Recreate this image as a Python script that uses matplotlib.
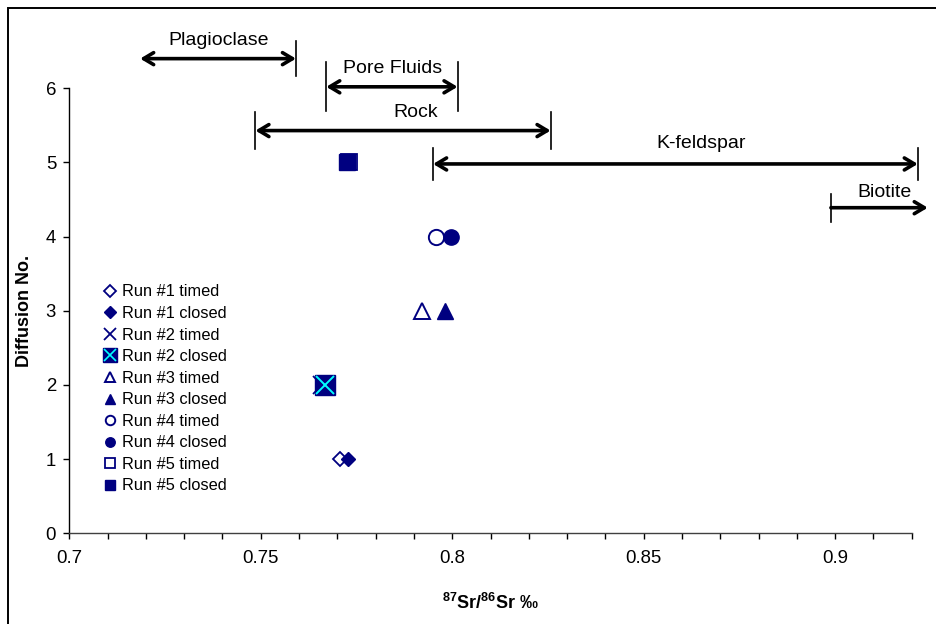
import matplotlib
matplotlib.use("Agg")
import matplotlib.pyplot as plt
from matplotlib.lines import Line2D
from matplotlib.patches import Rectangle
from matplotlib.ticker import FixedLocator, NullFormatter

plt.rcParams['font.family'] = ['Liberation Sans', 'DejaVu Sans']
plt.rcParams['mathtext.fontset'] = 'custom'
plt.rcParams['mathtext.rm'] = 'Liberation Sans'
plt.rcParams['mathtext.bf'] = 'Liberation Sans:bold'

# Sr isotope ratio of each diffusion run (timed vs. closed)
diffusion_no = [1, 2, 3, 4, 5]
sr_timed = [0.7706, 0.7661, 0.7920, 0.7958, 0.7731]
sr_closed = [0.7727, 0.7669, 0.7980, 0.7998, 0.7725]

# Reported ranges of the reservoirs / minerals
range_names = ['Plagioclase', 'Pore Fluids', 'Rock', 'K-feldspar', 'Biotite']
range_lo = [0.7185, 0.7671, 0.7486, 0.7950, 0.8989]
range_hi = [0.7592, 0.8014, 0.8257, 0.9216, 0.9242]
range_level = [6.40, 6.02, 5.43, 4.98, 4.39]

x_major = [0.7, 0.75, 0.8, 0.85, 0.9]
x_major_labels = ['0.7', '0.75', '0.8', '0.85', '0.9']
y_ticks = [0, 1, 2, 3, 4, 5, 6]

NAVY = '#000080'
CYAN = '#00FFFF'

W, H = 937, 624
fig = plt.figure(figsize=(W / 100, H / 100), dpi=100)
fig.patch.set_facecolor('white')

# outer chart border
fig.add_artist(Rectangle((8 / W, -0.2), 1.5, (1 - 8 / H) + 0.2,
                         transform=fig.transFigure, fill=False,
                         edgecolor='black', lw=1.4, clip_on=False))

x0, x1 = 69.3, 911.7
y0, y1 = 533.3, 88.3
ax = fig.add_axes([x0 / W, 1 - y0 / H, (x1 - x0) / W, (y0 - y1) / H])
ax.set_xlim(0.7, 0.92)
ax.set_ylim(0, 6)
for s in ('top', 'right'):
    ax.spines[s].set_visible(False)
ax.spines['left'].set_linewidth(1.0)
ax.spines['bottom'].set_linewidth(1.0)
ax.spines['bottom'].set_color('#404040')

ax.xaxis.set_major_locator(FixedLocator(x_major))
ax.set_xticklabels(x_major_labels)
minor = [round(0.70 + 0.01 * i, 2) for i in range(23)]
ax.xaxis.set_minor_locator(FixedLocator([m for m in minor if m not in x_major]))
ax.xaxis.set_minor_formatter(NullFormatter())
ax.set_yticks(y_ticks)
ax.tick_params(axis='x', which='both', direction='out', length=4, width=1,
               pad=8, labelsize=13.4)
ax.tick_params(axis='y', direction='out', length=4.5, width=1, pad=5,
               labelsize=13.4)

ax.set_ylabel('Diffusion No.', fontsize=13, fontweight='bold')
ax.yaxis.set_label_coords((33.5 - x0) / (x1 - x0), 0.5)
ax.set_xlabel(r'$\mathbf{^{87}Sr/^{86}Sr}$ ‰', fontsize=13, fontweight='bold')
ax.xaxis.set_label_coords(0.5, -(593 - y0) / (y0 - y1))

# markers: (timed style, closed style) for each run
timed_style = [
    dict(marker='D', ms=7.6, mfc='white', mec=NAVY, mew=1.3),
    dict(marker='x', ms=13, mec=NAVY, mew=1.3),
    dict(marker='^', ms=12, mfc='white', mec=NAVY, mew=1.4),
    dict(marker='o', ms=11, mfc='white', mec=NAVY, mew=1.4),
    dict(marker='s', ms=12, mfc='white', mec=NAVY, mew=1.3),
]
closed_style = [
    dict(marker='D', ms=7.6, mfc=NAVY, mec=NAVY, mew=1.0),
    dict(marker='s', ms=14, mfc=NAVY, mec=NAVY, mew=1.0),
    dict(marker='^', ms=12, mfc=NAVY, mec=NAVY, mew=1.0),
    dict(marker='o', ms=11, mfc=NAVY, mec=NAVY, mew=1.0),
    dict(marker='s', ms=12, mfc=NAVY, mec=NAVY, mew=1.0),
]

for i, d in enumerate(diffusion_no):
    ax.plot(sr_timed[i], d, ls='none', clip_on=False, zorder=3, **timed_style[i])
    ax.plot(sr_closed[i], d, ls='none', clip_on=False, zorder=4, **closed_style[i])
    if i == 1:
        ax.plot(sr_closed[i], d, ls='none', marker='x', ms=12.5, mec=CYAN,
                mew=1.4, zorder=5)

# range arrows with end bars
heads = ['<->', '<->', '<->', '<->', '->']
end_bars = [(False, True), (True, True), (True, True), (True, True), (True, False)]
bar_half = [0.24, 0.33, 0.25, 0.21, 0.19]
label_pos = [(0.7389, 6.65), (0.7843, 6.27), (0.7904, 5.68), (0.8650, 5.26), (0.9128, 4.59)]

for i, name in enumerate(range_names):
    lvl = range_level[i]
    ax.annotate('', xy=(range_hi[i], lvl), xytext=(range_lo[i], lvl),
                xycoords='data', annotation_clip=False,
                arrowprops=dict(arrowstyle=f'{heads[i]},head_length=0.6,head_width=0.36',
                                color='black', lw=2.6, shrinkA=0, shrinkB=0,
                                mutation_scale=12))
    for use, xv in zip(end_bars[i], (range_lo[i], range_hi[i])):
        if use:
            ax.plot([xv, xv], [lvl - bar_half[i], lvl + bar_half[i]],
                    color='black', lw=1.2, clip_on=False)
    ax.text(label_pos[i][0], label_pos[i][1], name, ha='center', va='center',
            fontsize=14, clip_on=False)

# legend with small marker proxies
def proxy(style, scale):
    st = dict(style)
    st['ms'] = st['ms'] * scale
    return Line2D([], [], ls='none', **st)

handles = []
labels = []
for i in range(5):
    sc_t = 0.62 if timed_style[i]['marker'] != 'D' else 0.85
    sc_c = 0.62 if closed_style[i]['marker'] != 'D' else 0.85
    handles.append(proxy(timed_style[i], sc_t))
    labels.append(f'Run #{i + 1} timed')
    if i == 1:
        handles.append((proxy(closed_style[i], 0.72),
                        Line2D([], [], ls='none', marker='x', ms=9, mec=CYAN, mew=1.2)))
    else:
        handles.append(proxy(closed_style[i], sc_c))
    labels.append(f'Run #{i + 1} closed')

fig.legend(handles, labels, loc='upper left',
           bbox_to_anchor=(103.4 / W, 1 - 284.5 / H), frameon=False,
           fontsize=11.8, handlelength=0.8, handletextpad=0.33,
           labelspacing=0.4, borderpad=0, borderaxespad=0)

fig.savefig('out.png', dpi=100, facecolor='white')
